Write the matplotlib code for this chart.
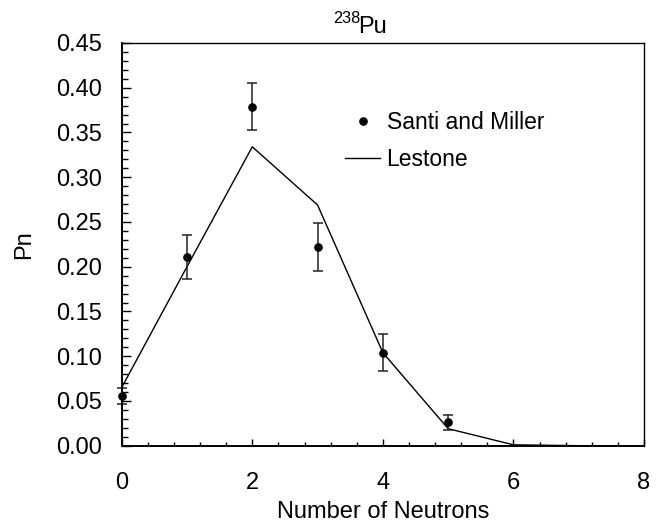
import numpy as np
import matplotlib.pyplot as plt
from matplotlib.ticker import MultipleLocator

plt.rcParams['font.family'] = ['Liberation Sans', 'DejaVu Sans']

# Santi and Miller measurements
n_meas = [0, 1, 2, 3, 4, 5]
p_meas = [0.056, 0.211, 0.379, 0.222, 0.104, 0.026]
p_err = [0.009, 0.025, 0.026, 0.027, 0.021, 0.008]

# Lestone calculation
n_calc = [0, 1, 2, 3, 4, 5, 6, 7, 8]
p_calc = [0.065, 0.200, 0.334, 0.269, 0.104, 0.019, 0.001, 0.0, 0.0]

W, H = 667, 527
fig = plt.figure(figsize=(W / 100, H / 100), dpi=100)
ax = fig.add_axes([121.7 / W, 1 - 445.7 / H, 522.3 / W, 402.7 / H])

ax.plot(n_calc, p_calc, color='black', lw=1.0, label='Lestone')
eb = ax.errorbar(n_meas, p_meas, yerr=p_err, fmt='none', ecolor='#222222',
                 elinewidth=1.1, capsize=3.8, capthick=1.1)
for art in eb.lines[1] + eb.lines[2]:
    art.set_clip_on(False)
ax.plot(n_meas, p_meas, 'o', color='black', ms=5.2, label='Santi and Miller',
        clip_on=False, zorder=4)

ax.set_xlim(0, 8)
ax.set_ylim(0, 0.45)
ax.xaxis.set_major_locator(MultipleLocator(2))
ax.xaxis.set_minor_locator(MultipleLocator(0.4))
ax.yaxis.set_major_locator(MultipleLocator(0.05))
ax.yaxis.set_minor_locator(MultipleLocator(0.01))
ax.yaxis.set_major_formatter(plt.FormatStrFormatter('%.2f'))

ax.tick_params(which='both', direction='in', labelsize=17, width=1.0)
ax.tick_params(axis='y', which='major', length=6.5, pad=14)
ax.tick_params(axis='y', which='minor', length=4.5)
ax.tick_params(axis='x', which='major', length=5, pad=19)
ax.tick_params(axis='x', which='minor', length=3)

for s in ['left', 'bottom']:
    ax.spines[s].set_linewidth(1.4)
for s in ['top', 'right']:
    ax.spines[s].set_linewidth(1.0)

ax.set_xlabel('Number of Neutrons', fontsize=17, labelpad=5)
ax.set_ylabel('Pn', fontsize=17, labelpad=15)

# title: superscript mass number + element symbol
fig.text(360 / W, 1 - 23.3 / H, '238', fontsize=11.7, ha='right', va='baseline')
fig.text(358.5 / W, 1 - 32.7 / H, 'Pu', fontsize=17, ha='left', va='baseline')

h, l = ax.get_legend_handles_labels()
ax.legend(h[::-1], l[::-1], loc='upper left', bbox_to_anchor=(0.427, 0.83),
          frameon=False, fontsize=16.5, handlelength=1.555, handletextpad=0.27,
          labelspacing=0.58, borderaxespad=0, borderpad=0)

fig.savefig('out.png', dpi=100)
